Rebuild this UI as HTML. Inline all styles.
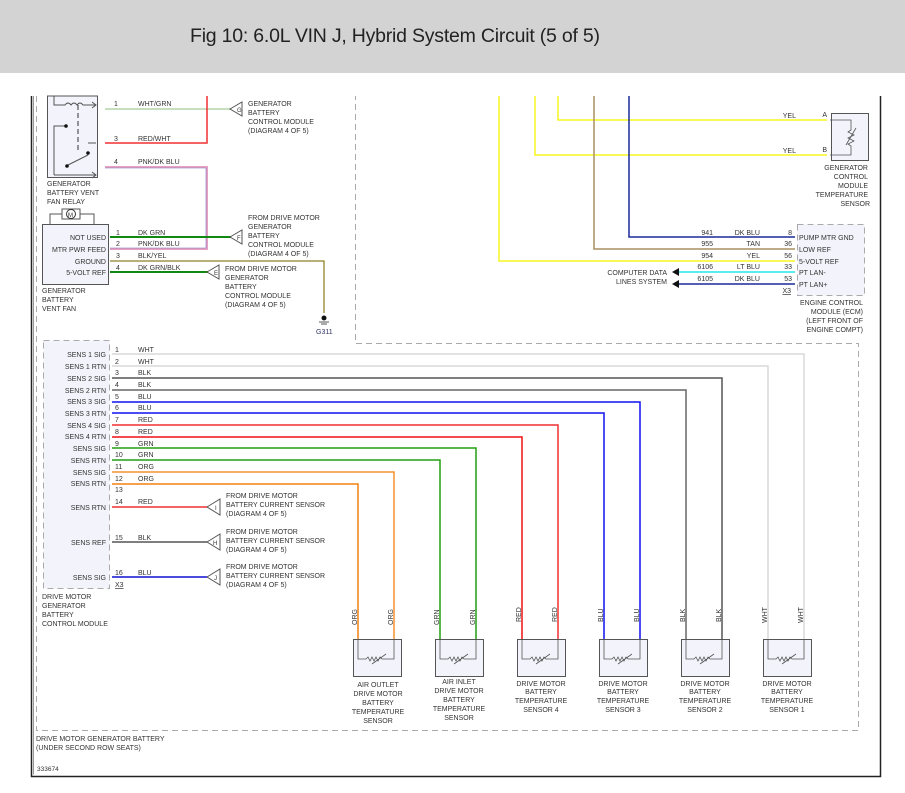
<!DOCTYPE html>
<html><head><meta charset="utf-8"><style>
html,body{margin:0;padding:0;background:#fff;}
svg{display:block;}
text{font-family:"Liberation Sans",sans-serif;font-size:7px;fill:#333;}
</style></head><body>
<svg width="905" height="793" viewBox="0 0 905 793" xmlns="http://www.w3.org/2000/svg">
<rect x="0" y="0" width="905" height="73" fill="#d3d3d3"/>
<text x="190" y="42" style="font-size:19.5px;fill:#222" textLength="410">Fig 10: 6.0L VIN J, Hybrid System Circuit (5 of 5)</text>

<!-- outer frame -->
<path d="M31.5 96 V776.5 H880.5 V96" fill="none" stroke="#222" stroke-width="1.5"/>
<path d="M33.5 96 V774.5" fill="none" stroke="#999" stroke-width="1"/>
<!-- dashed regions -->
<g fill="none" stroke="#aaa" stroke-width="1" stroke-dasharray="6,4">
<path d="M36.5 96 V730.5 H858.5 V343.5 H355.5 V96"/>
<path d="M43.5 340.5 H109.5 V588.5 H43.5 Z" fill="#f3f3fb"/>
<path d="M797.5 224.5 H864.5 V295.5 H797.5 Z" fill="#f3f3fb"/>
</g>
<text x="36" y="741">DRIVE MOTOR GENERATOR BATTERY</text>
<text x="36" y="750">(UNDER SECOND ROW SEATS)</text>
<text x="37" y="771" style="font-size:6.5px">333674</text>

<!-- relay -->
<rect x="47.5" y="96" width="50" height="81.5" fill="#f3f3fb" stroke="#555"/>
<path d="M54 96 V105 H65 q3,-4 6,0 q3,-4 6,0 q3,-4 6,0 H96 M92 102 l4 3 l-4 3" fill="none" stroke="#555"/>
<path d="M78 105 V150" stroke="#333" stroke-dasharray="5,3"/>
<path d="M54 175 V126 H66 M54 175 H96 M92 172 l4 3 l-4 3 M96 143 H88 M66 166 L88 155" fill="none" stroke="#555"/>
<circle cx="66" cy="126" r="1.8" fill="#111"/><circle cx="88" cy="153" r="1.8" fill="#111"/><circle cx="67" cy="166" r="1.8" fill="#111"/>
<text x="47" y="186">GENERATOR</text><text x="47" y="195">BATTERY VENT</text><text x="47" y="204">FAN RELAY</text>

<!-- vent fan -->
<path d="M50 224 V214 H62 M80 214 H94 V224" fill="none" stroke="#555"/>
<rect x="62" y="209" width="18" height="10" fill="#fff" stroke="#555"/>
<circle cx="71" cy="214" r="4.5" fill="#fff" stroke="#333"/>
<text x="68" y="217" style="font-size:6px">M</text>
<rect x="42.5" y="224.5" width="66" height="60" fill="#f3f3fb" stroke="#555"/>
<g text-anchor="end"><text x="106" y="240">NOT USED</text><text x="106" y="252">MTR PWR FEED</text><text x="106" y="264">GROUND</text><text x="106" y="275">5-VOLT REF</text></g>
<text x="42" y="293">GENERATOR</text><text x="42" y="302">BATTERY</text><text x="42" y="311">VENT FAN</text>

<!-- top-left wires -->
<path d="M105 109 H232" stroke="#c6dfbe" stroke-width="2"/>
<path d="M207 96 V143 H105" stroke="#f03030" stroke-width="1.5" fill="none"/>
<path d="M105 167 H207 V249 H110" stroke="#e8a0c0" stroke-width="2" fill="none"/>
<path d="M105 168 H206 V248 H110" stroke="#7070c0" stroke-width="0.6" fill="none"/>
<path d="M110 237 H232" stroke="#118811" stroke-width="2"/>
<path d="M110 261 H324 V313" stroke="#d8c850" stroke-width="1.5" fill="none"/>
<path d="M110 261 H324 V313" stroke="#333" stroke-width="0.5" fill="none"/>
<path d="M110 272 H208" stroke="#118811" stroke-width="2"/>
<circle cx="324" cy="318" r="2.5" fill="#111"/>
<path d="M319 322 H329 M321 324 H327" stroke="#555"/>
<text x="316" y="334" style="fill:#336">G311</text>
<g><text x="114" y="106">1</text><text x="138" y="106">WHT/GRN</text>
<text x="114" y="141">3</text><text x="138" y="141">RED/WHT</text>
<text x="114" y="164">4</text><text x="138" y="164">PNK/DK BLU</text>
<text x="116" y="235">1</text><text x="138" y="235">DK GRN</text>
<text x="116" y="246">2</text><text x="138" y="246">PNK/DK BLU</text>
<text x="116" y="258">3</text><text x="138" y="258">BLK/YEL</text>
<text x="116" y="270">4</text><text x="138" y="270">DK GRN/BLK</text></g>
<g fill="#fff" stroke="#555">
<path d="M230 109 L242 102 V116 Z"/><path d="M230 237 L242 230 V244 Z"/><path d="M207 272 L219 265 V279 Z"/>
<path d="M207 507 L220 499 V515 Z"/><path d="M207 542 L220 534 V550 Z"/><path d="M207 577 L220 569 V585 Z"/>
</g>
<text x="237" y="112" style="font-size:6px">G</text><text x="237" y="240" style="font-size:6px">F</text><text x="214" y="275" style="font-size:6px">E</text>
<text x="215" y="510" style="font-size:6px">I</text><text x="213" y="545" style="font-size:6px">H</text><text x="214" y="580" style="font-size:6px">J</text>
<text x="248" y="106">GENERATOR</text><text x="248" y="115">BATTERY</text><text x="248" y="124">CONTROL MODULE</text><text x="248" y="133">(DIAGRAM 4 OF 5)</text>
<text x="248" y="220">FROM DRIVE MOTOR</text><text x="248" y="229">GENERATOR</text><text x="248" y="238">BATTERY</text><text x="248" y="247">CONTROL MODULE</text><text x="248" y="256">(DIAGRAM 4 OF 5)</text>
<text x="225" y="271">FROM DRIVE MOTOR</text><text x="225" y="280">GENERATOR</text><text x="225" y="289">BATTERY</text><text x="225" y="298">CONTROL MODULE</text><text x="225" y="307">(DIAGRAM 4 OF 5)</text>

<!-- drive motor module pins -->
<g text-anchor="end">
<text x="106" y="357">SENS 1 SIG</text><text x="106" y="369">SENS 1 RTN</text><text x="106" y="381">SENS 2 SIG</text><text x="106" y="393">SENS 2 RTN</text>
<text x="106" y="404">SENS 3 SIG</text><text x="106" y="416">SENS 3 RTN</text><text x="106" y="428">SENS 4 SIG</text><text x="106" y="439">SENS 4 RTN</text>
<text x="106" y="451">SENS SIG</text><text x="106" y="463">SENS RTN</text><text x="106" y="475">SENS SIG</text><text x="106" y="486">SENS RTN</text>
<text x="106" y="510">SENS RTN</text><text x="106" y="545">SENS REF</text><text x="106" y="580">SENS SIG</text></g>
<text x="42" y="599">DRIVE MOTOR</text><text x="42" y="608">GENERATOR</text><text x="42" y="617">BATTERY</text><text x="42" y="626">CONTROL MODULE</text>

<g fill="none" stroke-width="1.5">
<path d="M112 354 H804 V640" stroke="#d8d8d8"/>
<path d="M112 366 H768 V640" stroke="#d8d8d8"/>
<path d="M112 378 H722 V640" stroke="#555"/>
<path d="M112 390 H686 V640" stroke="#666"/>
<path d="M112 402 H640 V640" stroke="#1010f0"/>
<path d="M112 413 H604 V640" stroke="#1010f0"/>
<path d="M112 425 H558 V640" stroke="#f03030"/>
<path d="M112 437 H522 V640" stroke="#f01010"/>
<path d="M112 448 H476 V640" stroke="#22a010"/>
<path d="M112 460 H440 V640" stroke="#22a010"/>
<path d="M112 472 H394 V640" stroke="#f59030"/>
<path d="M112 484 H358 V640" stroke="#f08010"/>
<path d="M112 507 H207" stroke="#f03030"/>
<path d="M112 542 H207" stroke="#555"/>
<path d="M112 577 H207" stroke="#1010d0"/>
</g>
<g style="font-size:6.5px">
<text x="115" y="352">1</text><text x="138" y="352">WHT</text>
<text x="115" y="364">2</text><text x="138" y="364">WHT</text>
<text x="115" y="375">3</text><text x="138" y="375">BLK</text>
<text x="115" y="387">4</text><text x="138" y="387">BLK</text>
<text x="115" y="399">5</text><text x="138" y="399">BLU</text>
<text x="115" y="410">6</text><text x="138" y="410">BLU</text>
<text x="115" y="422">7</text><text x="138" y="422">RED</text>
<text x="115" y="434">8</text><text x="138" y="434">RED</text>
<text x="115" y="446">9</text><text x="138" y="446">GRN</text>
<text x="115" y="457">10</text><text x="138" y="457">GRN</text>
<text x="115" y="469">11</text><text x="138" y="469">ORG</text>
<text x="115" y="481">12</text><text x="138" y="481">ORG</text>
<text x="115" y="492">13</text>
<text x="115" y="504">14</text><text x="138" y="504">RED</text>
<text x="115" y="540">15</text><text x="138" y="540">BLK</text>
<text x="115" y="575">16</text><text x="138" y="575">BLU</text>
<text x="115" y="587" text-decoration="underline">X3</text></g>
<g>
<text x="226" y="498">FROM DRIVE MOTOR</text><text x="226" y="507">BATTERY CURRENT SENSOR</text><text x="226" y="516">(DIAGRAM 4 OF 5)</text>
<text x="226" y="534">FROM DRIVE MOTOR</text><text x="226" y="543">BATTERY CURRENT SENSOR</text><text x="226" y="552">(DIAGRAM 4 OF 5)</text>
<text x="226" y="569">FROM DRIVE MOTOR</text><text x="226" y="578">BATTERY CURRENT SENSOR</text><text x="226" y="587">(DIAGRAM 4 OF 5)</text></g>

<!-- sensors -->
<g id="s">
<rect x="353.5" y="639.5" width="48" height="37" fill="#f3f3fb" stroke="#555"/>
<path d="M358 640 V659 H366 l2 -2 l2 4 l2 -4 l2 4 l2 -4 l2 4 l2 -4 l2 2 H394 V640 M372 664 L386 654" fill="none" stroke="#555" stroke-width="0.8"/>
</g>
<use href="#s" x="82"/><use href="#s" x="164"/><use href="#s" x="246"/><use href="#s" x="328"/><use href="#s" x="410"/>
<g style="font-size:6.5px">
<text transform="translate(357,625) rotate(-90)">ORG</text><text transform="translate(393,625) rotate(-90)">ORG</text>
<text transform="translate(439,625) rotate(-90)">GRN</text><text transform="translate(475,625) rotate(-90)">GRN</text>
<text transform="translate(521,622) rotate(-90)">RED</text><text transform="translate(557,622) rotate(-90)">RED</text>
<text transform="translate(603,622) rotate(-90)">BLU</text><text transform="translate(639,622) rotate(-90)">BLU</text>
<text transform="translate(685,622) rotate(-90)">BLK</text><text transform="translate(721,622) rotate(-90)">BLK</text>
<text transform="translate(767,623) rotate(-90)">WHT</text><text transform="translate(803,623) rotate(-90)">WHT</text>
</g>
<g text-anchor="middle">
<text x="378" y="687">AIR OUTLET</text><text x="378" y="696">DRIVE MOTOR</text><text x="378" y="705">BATTERY</text><text x="378" y="714">TEMPERATURE</text><text x="378" y="723">SENSOR</text>
<text x="459" y="684">AIR INLET</text><text x="459" y="693">DRIVE MOTOR</text><text x="459" y="702">BATTERY</text><text x="459" y="711">TEMPERATURE</text><text x="459" y="720">SENSOR</text>
<text x="541" y="686">DRIVE MOTOR</text><text x="541" y="694">BATTERY</text><text x="541" y="703">TEMPERATURE</text><text x="541" y="712">SENSOR 4</text>
<text x="623" y="686">DRIVE MOTOR</text><text x="623" y="694">BATTERY</text><text x="623" y="703">TEMPERATURE</text><text x="623" y="712">SENSOR 3</text>
<text x="705" y="686">DRIVE MOTOR</text><text x="705" y="694">BATTERY</text><text x="705" y="703">TEMPERATURE</text><text x="705" y="712">SENSOR 2</text>
<text x="787" y="686">DRIVE MOTOR</text><text x="787" y="694">BATTERY</text><text x="787" y="703">TEMPERATURE</text><text x="787" y="712">SENSOR 1</text>
</g>

<!-- right top -->
<g fill="none" stroke-width="1.5">
<path d="M499 96 V261 H795" stroke="#f5f520"/>
<path d="M535 96 V155 H827" stroke="#f5f520"/>
<path d="M558 96 V120 H827" stroke="#f5f520"/>
<path d="M594 96 V249 H795" stroke="#a89060"/>
<path d="M629 96 V237 H795" stroke="#1a2a9a"/>
<path d="M678 272 H795" stroke="#20e8e8"/>
<path d="M678 284 H795" stroke="#1a2a9a"/>
</g>
<path d="M672 272 l7 -4 v8 Z M672 284 l7 -4 v8 Z" fill="#111"/>
<text x="667" y="275" text-anchor="end">COMPUTER DATA</text><text x="667" y="284" text-anchor="end">LINES SYSTEM</text>
<rect x="831.5" y="113.5" width="37" height="47" fill="#f3f3fb" stroke="#555"/>
<path d="M830 120 H851 V130 l-3 2 l6 3 l-6 3 l6 3 l-6 3 l3 2 V155 H830 M846 145 L856 128" fill="none" stroke="#555" stroke-width="0.8"/>
<g text-anchor="end"><text x="868" y="170">GENERATOR</text><text x="868" y="179">CONTROL</text><text x="868" y="188">MODULE</text><text x="868" y="197">TEMPERATURE</text><text x="870" y="206">SENSOR</text>
<text x="796" y="118">YEL</text><text x="796" y="153">YEL</text><text x="827" y="117">A</text><text x="827" y="152">B</text>
<text x="713" y="235">941</text><text x="760" y="235">DK BLU</text><text x="792" y="235">8</text>
<text x="713" y="246">955</text><text x="760" y="246">TAN</text><text x="792" y="246">36</text>
<text x="713" y="258">954</text><text x="760" y="258">YEL</text><text x="792" y="258">56</text>
<text x="713" y="269">6106</text><text x="760" y="269">LT BLU</text><text x="792" y="269">33</text>
<text x="713" y="281">6105</text><text x="760" y="281">DK BLU</text><text x="792" y="281">53</text>
<text x="791" y="293" text-decoration="underline">X3</text>
<text x="863" y="305">ENGINE CONTROL</text><text x="863" y="314">MODULE (ECM)</text><text x="863" y="323">(LEFT FRONT OF</text><text x="863" y="332">ENGINE COMPT)</text></g>
<text x="799" y="240">PUMP MTR GND</text><text x="799" y="252">LOW REF</text><text x="799" y="264">5-VOLT REF</text><text x="799" y="275">PT LAN-</text><text x="799" y="287">PT LAN+</text>
</svg>
</body></html>
